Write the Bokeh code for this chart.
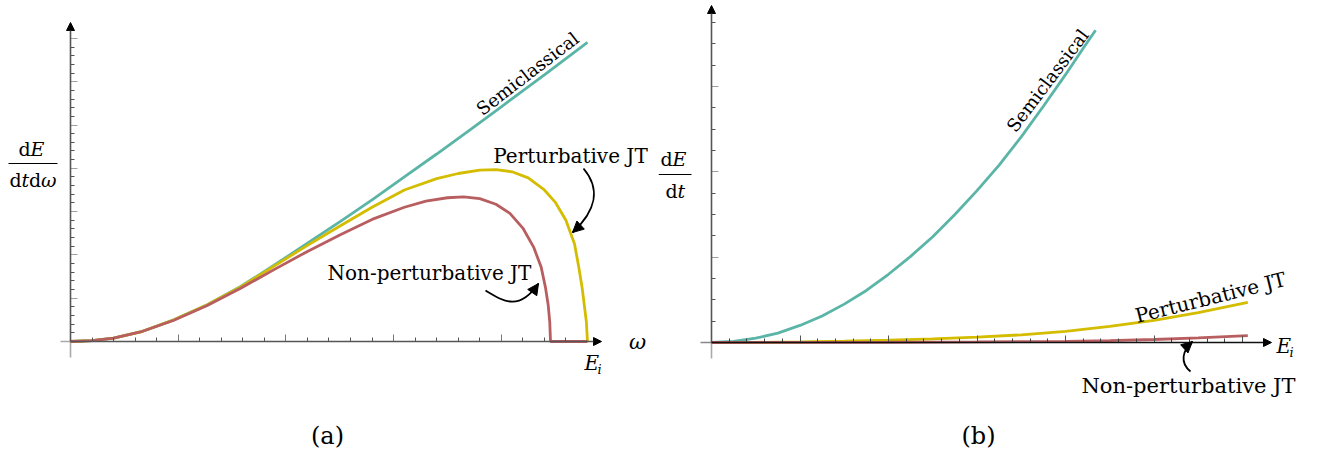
from bokeh.plotting import figure
from bokeh.layouts import row
from bokeh.models import LinearAxis, FixedTicker, Arrow, NormalHead, Label
from bokeh.embed import file_html
from bokeh.resources import INLINE

# ---------------- data: panel (a)  dE/(dt dw) vs w  (E_i = 4.8 tick units)
a_semi_w = [0, 0.20, 0.40, 0.65, 0.96, 1.27, 1.58, 1.89, 2.20, 2.51, 2.80, 3.10, 3.40, 3.70,
            4.00, 4.40, 4.80]
a_semi_v = [0, 0.02, 0.08, 0.22, 0.50, 0.85, 1.27, 1.76, 2.27, 2.78, 3.27, 3.80, 4.33, 4.87,
            5.42, 6.16, 6.91]

a_pert_w = [0, 0.20, 0.40, 0.65, 0.96, 1.27, 1.58, 1.89, 2.20, 2.51, 2.80, 3.10, 3.40, 3.60,
            3.80, 3.95, 4.10, 4.25, 4.40, 4.50, 4.60, 4.68, 4.72, 4.75, 4.77, 4.79, 4.80]
a_pert_v = [0, 0.02, 0.08, 0.22, 0.50, 0.85, 1.26, 1.74, 2.22, 2.68, 3.10, 3.50, 3.76, 3.88,
            3.96, 3.97, 3.92, 3.78, 3.50, 3.22, 2.80, 2.25, 1.71, 1.25, 0.85, 0.45, 0]

a_npert_w = [0, 0.20, 0.40, 0.65, 0.96, 1.27, 1.58, 1.89, 2.20, 2.51, 2.80, 3.10, 3.30, 3.50,
             3.65, 3.80, 3.95, 4.08, 4.20, 4.30, 4.37, 4.41, 4.435, 4.45, 4.457, 4.80]
a_npert_v = [0, 0.02, 0.08, 0.22, 0.49, 0.83, 1.23, 1.66, 2.08, 2.47, 2.82, 3.10, 3.24, 3.32,
             3.34, 3.30, 3.17, 2.96, 2.62, 2.18, 1.72, 1.25, 0.85, 0.45, 0, 0]

# ---------------- data: panel (b)  dE/dt vs E_i
b_semi_E = [0, 0.25, 0.50, 0.75, 1.00, 1.25, 1.50, 1.75, 2.00, 2.25, 2.50, 2.75, 3.00, 3.25,
            3.50, 3.75, 4.00, 4.20, 4.34]
b_semi_v = [0, 0.012, 0.05, 0.11, 0.20, 0.31, 0.45, 0.61, 0.80, 1.01, 1.24, 1.50, 1.78, 2.08,
            2.41, 2.77, 3.14, 3.45, 3.66]

b_pert_E = [0, 0.5, 1.0, 1.5, 2.0, 2.5, 3.0, 3.5, 4.0, 4.5, 5.0, 5.5, 6.06]
b_pert_v = [0, 0.002, 0.006, 0.015, 0.028, 0.042, 0.062, 0.09, 0.13, 0.19, 0.26, 0.35, 0.47]

b_npert_E = [0, 1.0, 2.0, 3.0, 4.0, 4.5, 5.0, 5.5, 6.06]
b_npert_v = [0, 0.001, 0.003, 0.007, 0.014, 0.022, 0.035, 0.055, 0.08]

a_xticks = [1, 2, 3, 4]
a_xminor = [round(0.2 * k, 2) for k in range(1, 24) if k % 5]
a_yticks = [1, 2, 3, 4, 5, 6, 7]
a_yminor = [round(0.2 * k, 2) for k in range(1, 36) if k % 5]
b_xticks = [1, 2, 3, 4, 5, 6]
b_xminor = [round(0.2 * k, 2) for k in range(1, 31) if k % 5]
b_yticks = [1, 2, 3]
b_yminor = [round(0.25 * k, 2) for k in range(1, 16) if k % 4]

TEAL = "#5bb5a7"
GOLD = "#d4bd00"
RED = "#b95e60"
SERIF = "DejaVu Serif"

W, H = 1318, 454
SPLIT = 658


# page-pixel -> data helpers, used only to place annotations
def pa(px, py):
    return (px - 70) / 107.7, (341 - py) / 43.3


def pb(px, py):
    return (px - 711) / 88.5, (342 - py) / 85.3


def make_fig(width, conv, xl, xr):
    x0, y1 = conv(xl, 0)
    x1, y0 = conv(xr, H)
    p = figure(width=width, height=H, x_range=(x0, x1), y_range=(y0, y1),
               output_backend="svg", toolbar_location=None,
               x_axis_location=None, y_axis_location=None, min_border=0)
    p.outline_line_color = None
    p.grid.visible = False
    p.background_fill_color = "white"
    return p


def add_axes(p, xt, xm, yt, ym, xcol, ycol, xmaj_col, ymaj_col):
    xa = LinearAxis(fixed_location=0, ticker=FixedTicker(ticks=xt, minor_ticks=xm))
    ya = LinearAxis(fixed_location=0, ticker=FixedTicker(ticks=yt, minor_ticks=ym))
    for ax, col, mcol in ((xa, xcol, xmaj_col), (ya, ycol, ymaj_col)):
        ax.axis_line_color = None
        ax.major_label_text_font_size = "0px"
        ax.major_label_text_color = None
        ax.major_label_standoff = 0
        ax.major_tick_out = 0
        ax.minor_tick_out = 0
        ax.major_tick_in = 7
        ax.minor_tick_in = 4
        ax.major_tick_line_color = mcol
        ax.minor_tick_line_color = col
        ax.major_tick_line_width = 1
        ax.minor_tick_line_width = 1
    p.add_layout(xa, "below")
    p.add_layout(ya, "left")


def txt(p, xy, s, size, angle=0, italic=False, align="center", baseline="middle"):
    p.add_layout(Label(x=xy[0], y=xy[1], text=s, text_font=SERIF,
                       text_font_size=f"{size}px",
                       text_font_style="italic" if italic else "normal", text_align=align,
                       text_baseline=baseline, angle=angle, angle_units="deg",
                       text_color="black"))


def curved_arrow(p, conv, p0, c0, c1, p1):
    a0, a1, a2, a3 = conv(*p0), conv(*c0), conv(*c1), conv(*p1)
    p.bezier(x0=[a0[0]], y0=[a0[1]], x1=[a3[0]], y1=[a3[1]], cx0=[a1[0]], cy0=[a1[1]],
             cx1=[a2[0]], cy1=[a2[1]], line_color="black", line_width=1.8)
    p.add_layout(Arrow(x_start=a2[0], y_start=a2[1], x_end=a3[0], y_end=a3[1], line_alpha=0,
                       end=NormalHead(size=11, fill_color="black", line_color="black")))


def axis_arrow(p, xs, ys, xe, ye, color, width=1.6):
    p.add_layout(Arrow(x_start=xs, y_start=ys, x_end=xe, y_end=ye, line_color=color,
                       line_width=width,
                       end=NormalHead(size=8, fill_color="black", line_color="black")))


# ======================= panel (a)
pA = make_fig(SPLIT, pa, 0, SPLIT)
add_axes(pA, a_xticks, a_xminor, a_yticks, a_yminor, "#555555", "#555555", "#777777", "#a0a0a0")
pA.segment(x0=[pa(60, 0)[0]], y0=[0], x1=[0], y1=[0], line_color="#aaaaaa", line_width=1.6)
pA.segment(x0=[0], y0=[pa(0, 357)[1]], x1=[0], y1=[0], line_color="#aaaaaa", line_width=1.6)
axis_arrow(pA, 0, 0, pa(601, 0)[0], 0, "#555555")
axis_arrow(pA, 0, 0, 0, pa(0, 22)[1], "#555555")

pA.line(a_semi_w, a_semi_v, line_color=TEAL, line_width=2.8)
pA.line(a_pert_w, a_pert_v, line_color=GOLD, line_width=2.8)
pA.line(a_npert_w, a_npert_v, line_color=RED, line_width=2.8)

txt(pA, pa(527, 73), "Semiclassical", 18, angle=37.5)
txt(pA, pa(570, 155), "Perturbative JT", 20)
txt(pA, pa(429, 272), "Non-perturbative JT", 20)
curved_arrow(pA, pa, (583, 168), (600, 188), (596, 210), (572, 232))
curved_arrow(pA, pa, (485, 290), (502, 300), (518, 312), (538, 283))
txt(pA, pa(637, 341), "ω", 21, italic=True)
txt(pA, pa(584, 362), "E", 20, italic=True, align="left")
txt(pA, pa(597, 369), "i", 13, italic=True, align="left")
# y label dE / (dt dw)
pA.segment(x0=[pa(8, 0)[0]], y0=[pa(0, 163)[1]], x1=[pa(57, 0)[0]], y1=[pa(0, 163)[1]],
           line_color="black", line_width=1.2)
txt(pA, pa(18, 148), "d", 19, align="left")
txt(pA, pa(30, 148), "E", 19, italic=True, align="left")
txt(pA, pa(9, 179), "d", 19, align="left")
txt(pA, pa(21, 179), "t", 19, italic=True, align="left")
txt(pA, pa(28.5, 179), "d", 19, align="left")
txt(pA, pa(40.5, 179), "ω", 19, italic=True, align="left")
txt(pA, pa(327, 435), "(a)", 24)

# ======================= panel (b)
pB = make_fig(W - SPLIT, pb, SPLIT, W)
add_axes(pB, b_xticks, b_xminor, b_yticks, b_yminor, "#444444", "#555555", "#555555", "#a0a0a0")
pB.segment(x0=[pb(700, 0)[0]], y0=[0], x1=[0], y1=[0], line_color="#888888", line_width=1.6)
pB.segment(x0=[0], y0=[pb(0, 358)[1]], x1=[0], y1=[0], line_color="#aaaaaa", line_width=1.6)
axis_arrow(pB, 0, 0, 0, pb(0, 5)[1], "#555555")

pB.line(b_semi_E, b_semi_v, line_color=TEAL, line_width=2.8)
pB.line(b_pert_E, b_pert_v, line_color=GOLD, line_width=2.8)
pB.line(b_npert_E, b_npert_v, line_color=RED, line_width=2.8)
axis_arrow(pB, 0, 0, pb(1271, 0)[0], 0, "#111111", width=1.4)

txt(pB, pb(1047, 80), "Semiclassical", 18, angle=53)
txt(pB, pb(1210, 297), "Perturbative JT", 20, angle=14)
txt(pB, pb(1188, 385), "Non-perturbative JT", 21)
curved_arrow(pB, pb, (1190, 371), (1179, 362), (1182, 350), (1192, 341))
txt(pB, pb(1276, 345), "E", 20, italic=True, align="left")
txt(pB, pb(1289, 352), "i", 13, italic=True, align="left")
pB.segment(x0=[pb(658, 0)[0]], y0=[pb(0, 174)[1]], x1=[pb(691, 0)[0]], y1=[pb(0, 174)[1]],
           line_color="black", line_width=1.2)
txt(pB, pb(660, 158), "d", 19, align="left")
txt(pB, pb(672, 158), "E", 19, italic=True, align="left")
txt(pB, pb(665, 190), "d", 19, align="left")
txt(pB, pb(677, 190), "t", 19, italic=True, align="left")
txt(pB, pb(978, 435), "(b)", 24)

layout = row(pA, pB)
open("out.html", "w").write(file_html(layout, INLINE))
